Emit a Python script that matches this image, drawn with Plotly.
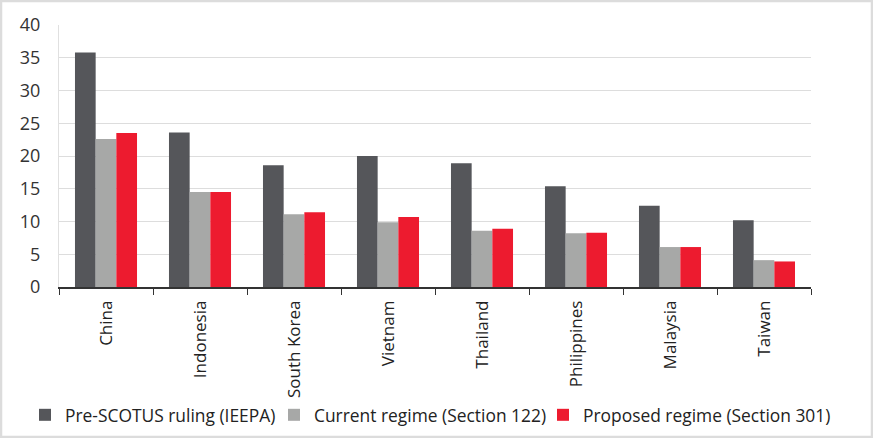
import plotly.graph_objects as go

countries = ["China", "Indonesia", "South Korea", "Vietnam", "Thailand",
             "Philippines", "Malaysia", "Taiwan"]
pre_scotus = [35.8, 23.6, 18.6, 20.0, 18.9, 15.4, 12.4, 10.2]
current_regime = [22.6, 14.5, 11.1, 9.9, 8.6, 8.2, 6.1, 4.1]
proposed_regime = [23.5, 14.5, 11.4, 10.7, 8.9, 8.3, 6.1, 3.9]

series_names = ["Pre-SCOTUS ruling (IEEPA)", "Current regime (Section 122)",
                "Proposed regime (Section 301)"]
colors = ["#55565a", "#a7a8a7", "#ed1b2f"]

W, H = 873, 438
ml, mr, mt, mb = 59, 62, 25, 151
pw, ph = W - ml - mr, H - mt - mb

# each series gets its own one-item legend so the row never wraps
legend_ids = ["legend", "legend2", "legend3"]
legend_text_x = [67, 316, 585]

fig = go.Figure()
for name, vals, col, lg in zip(series_names, [pre_scotus, current_regime, proposed_regime],
                               colors, legend_ids):
    fig.add_trace(go.Bar(x=countries, y=vals, name=name, marker_color=col,
                         marker_line_width=0, legend=lg, showlegend=True))

legend_style = dict(orientation="h", xref="container", yref="container",
                    xanchor="left", y=1 - 415 / H, yanchor="middle", visible=True,
                    font=dict(size=17.4, color="#222222"), itemwidth=30,
                    bgcolor="rgba(0,0,0,0)")
for lg, tx in zip(legend_ids, legend_text_x):
    fig.update_layout({lg: dict(legend_style, x=(tx - 42) / W)})

fig.update_layout(
    width=W, height=H, showlegend=True,
    margin=dict(l=ml, r=mr, t=mt, b=mb, autoexpand=False),
    barmode="group", bargap=0.34, bargroupgap=0,
    paper_bgcolor="white", plot_bgcolor="white",
    font=dict(family="Open Sans", size=17, color="#333333"),
    shapes=[dict(type="rect", xref="paper", yref="paper",
                 x0=-(ml - 1) / pw, x1=1 + (mr - 1) / pw,
                 y0=-(mb - 1) / ph, y1=1 + (mt - 1) / ph,
                 line=dict(color="#dcdcdc", width=2.5), layer="below")],
)
fig.update_xaxes(tickangle=-90, showline=True, linecolor="#333333", linewidth=1.5,
                 ticks="outside", tickson="boundaries", ticklen=6, tickcolor="#333333",
                 ticklabelstandoff=5, automargin=False,
                 tickfont=dict(size=17, color="#222222"), showgrid=False)
fig.update_yaxes(range=[0, 40], dtick=5, showgrid=True, gridcolor="#dddddd", gridwidth=1,
                 showline=True, linecolor="#e0e0e0", zeroline=False, automargin=False,
                 ticklabelstandoff=14, tickfont=dict(size=18, color="#333333"))

fig.write_html("out.html", config={"displayModeBar": False},
               post_script="document.body.style.margin='0';")
